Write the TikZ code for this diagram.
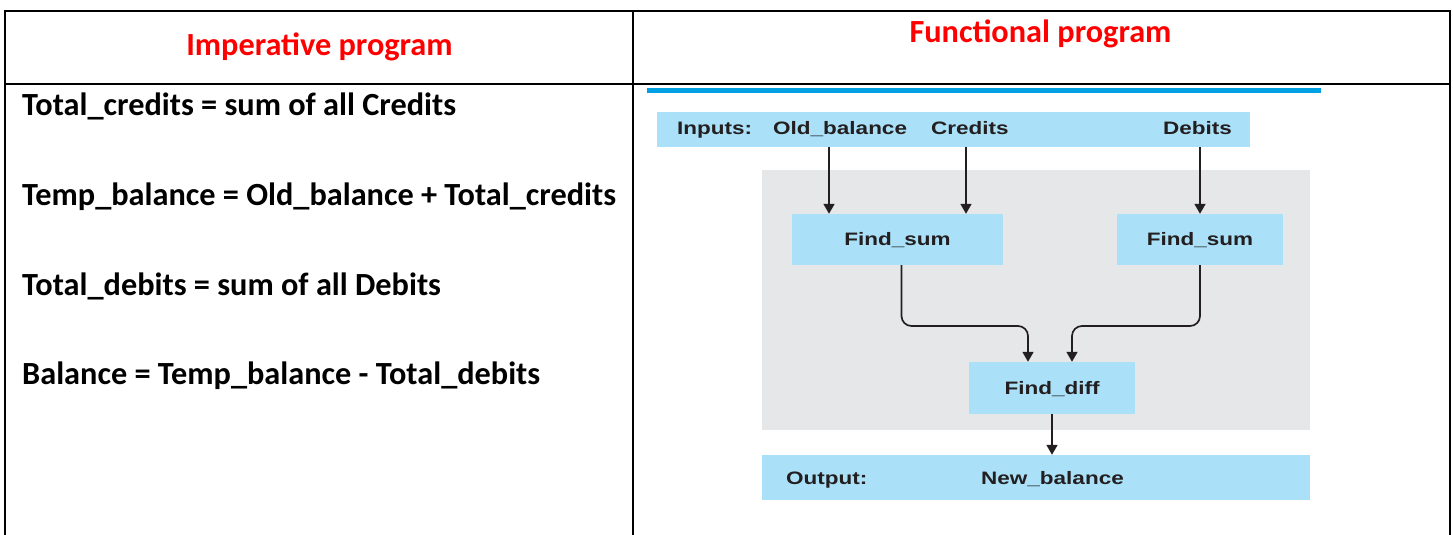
\documentclass[tikz,border=0pt]{standalone}
\usepackage{fontspec}
\setmainfont{Carlito}
\newfontfamily\diagfont{Liberation Sans}[FakeStretch=1.25]
\usetikzlibrary{arrows.meta}
\definecolor{boxblue}{RGB}{170,224,248}
\definecolor{areagray}{RGB}{230,231,233}
\definecolor{lineblue}{RGB}{0,160,227}
\definecolor{ink}{RGB}{35,31,32}
\definecolor{hdrred}{RGB}{255,0,0}
\tikzset{
  tbl/.style={line width=2.5pt, draw=black},
  hdr/.style={anchor=base, inner sep=0pt, text=hdrred, font=\fontsize{32.3}{38}\selectfont\bfseries},
  body/.style={anchor=base west, inner sep=0pt, text=black, font=\fontsize{32.3}{38}\selectfont\bfseries},
  bluebox/.style={fill=boxblue, inner sep=0pt, text=ink, text height=12.9pt, text depth=0pt, font=\diagfont\fontsize{18}{22}\selectfont\bfseries},
  dlabel/.style={anchor=base west, inner sep=0pt, text=ink, font=\diagfont\fontsize{18}{22}\selectfont\bfseries},
  arr/.style={draw=ink, line width=1.7pt, -{Triangle[length=10pt,width=11pt]}},
}
\begin{document}
\begin{tikzpicture}[x=1pt,y=-1pt]
\useasboundingbox (0,0) rectangle (1453,535);
% table
\draw[tbl] (5,535) -- (5,11) -- (1450,11) -- (1450,535);
\draw[tbl] (5,84) -- (1450,84);
\draw[tbl] (633,11) -- (633,535);
% headers
\node[hdr] (himp) at (319.5,56) {Imperative program};
\node[hdr] (hfun) at (1040.5,43) {Functional program};
% left texts
\node[body] (l1) at (22,115) {Total\_credits = sum of all Credits};
\node[body] (l2) at (22,205) {Temp\_balance = Old\_balance + Total\_credits};
\node[body] (l3) at (22,295) {Total\_debits = sum of all Debits};
\node[body] (l4) at (22,384) {Balance = Temp\_balance - Total\_debits};
% diagram
\draw[line width=5pt, lineblue] (647,90) -- (1321,90);
\fill[areagray] (762,170) rectangle (1310,430);
\node[bluebox, minimum width=593pt, minimum height=35pt] (inputs) at (953.5,129.5) {};
\node[dlabel] (tin) at (677,134.5) {Inputs:};
\node[dlabel] (told) at (773,134.5) {Old\_balance};
\node[dlabel] (tcred) at (931,134.5) {Credits};
\node[dlabel] (tdeb) at (1163,134.5) {Debits};
\node[bluebox, minimum width=211pt, minimum height=51pt] (sumL) at (897.5,239.5) {Find\_sum};
\node[bluebox, minimum width=166pt, minimum height=51pt] (sumR) at (1200,239.5) {Find\_sum};
\node[bluebox, minimum width=166pt, minimum height=52pt] (diff) at (1052,388) {Find\_diff};
\node[bluebox, minimum width=548pt, minimum height=45pt] (out) at (1036,477.5) {};
\node[dlabel] (tout) at (786,484) {Output:};
\node[dlabel] (tnew) at (981,484) {New\_balance};
\coordinate (jn) at (1052,326);
% arrows
\draw[arr] ([xshift=-68.5pt]sumL.north |- inputs.south) -- ([xshift=-68.5pt]sumL.north);
\draw[arr] ([xshift=68.5pt]sumL.north |- inputs.south) -- ([xshift=68.5pt]sumL.north);
\draw[arr] (sumR.north |- inputs.south) -- (sumR.north);
\draw[arr, rounded corners=10pt] ([xshift=4pt]sumL.south) |- ([xshift=-24pt]jn) -- ([xshift=-24pt]diff.north);
\draw[arr, rounded corners=10pt] (sumR.south) |- ([xshift=20pt]jn) -- ([xshift=20pt]diff.north);
\draw[arr] (diff.south) -- (diff.south |- out.north);
\end{tikzpicture}
\end{document}
